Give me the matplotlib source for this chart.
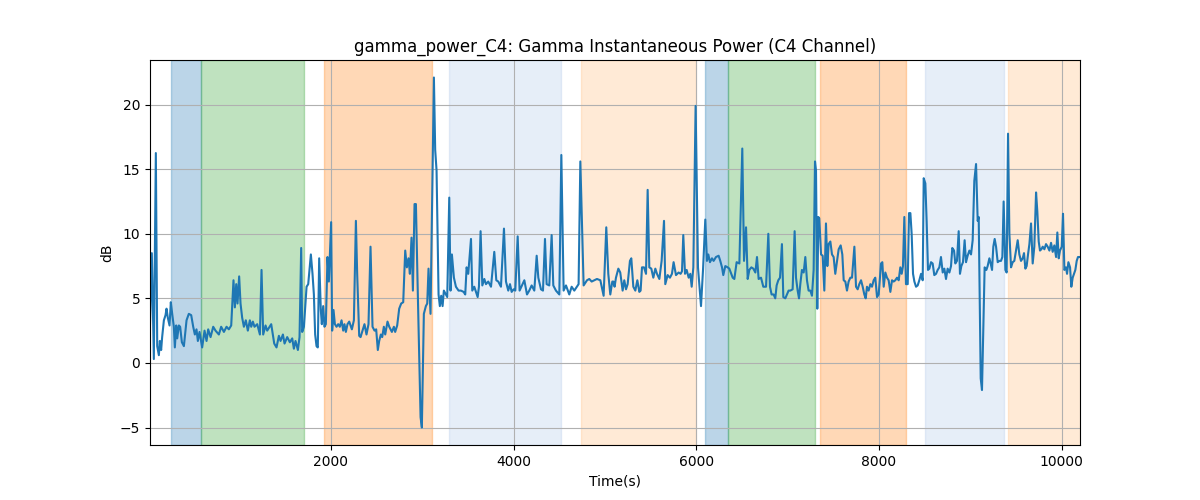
import matplotlib
matplotlib.use("Agg")
import matplotlib.pyplot as plt

# time stamps (s) and gamma power (dB)
t = [20, 40, 62, 84, 99, 117, 128, 142, 153, 172, 190, 201, 215, 234, 248, 263, 281, 292, 307, 318,
     336, 350, 369, 391, 420, 445, 471, 493, 511, 529, 544, 562, 591, 617, 639, 657, 683, 712, 737, 774,
     799, 829, 858, 883, 909, 934, 949, 964, 978, 996, 1011, 1029, 1048, 1069, 1091, 1113, 1128, 1146, 1164, 1194,
     1223, 1241, 1259, 1285, 1303, 1347, 1380, 1405, 1431, 1449, 1475, 1493, 1522, 1551, 1577, 1595, 1613, 1639, 1657, 1675,
     1686, 1705, 1734,
     1752, 1781, 1799, 1814, 1828, 1843, 1857, 1872, 1890, 1901, 1916, 1930, 1945, 1963, 1978, 2003, 2014, 2029, 2044, 2062,
     2080, 2098, 2117, 2135, 2149, 2164, 2182, 2201, 2230, 2252, 2274, 2288, 2310, 2325, 2347, 2368, 2390, 2412, 2434, 2456,
     2478, 2496, 2514, 2529, 2547, 2562, 2580, 2595, 2620, 2639, 2668, 2690, 2704, 2726, 2748, 2770, 2792, 2814, 2832, 2850,
     2865, 2883, 2898, 2916, 2931, 2952, 2982, 2996, 3018, 3040, 3055, 3069, 3091, 3128, 3142, 3157, 3179, 3193, 3208, 3223,
     3237, 3259, 3274, 3296, 3310, 3325, 3347, 3369, 3398,
     3424, 3453, 3471, 3486, 3504, 3534, 3548, 3570, 3607, 3621, 3639, 3658, 3680, 3698, 3723, 3753, 3789, 3811, 3833, 3862,
     3895, 3917, 3942, 3961, 3979, 4001, 4019, 4045, 4066, 4099, 4118, 4147, 4172, 4198, 4227, 4253, 4271, 4300, 4322, 4344,
     4362, 4391, 4417, 4435, 4464, 4501, 4523, 4548, 4574, 4610, 4636, 4665, 4694, 4712, 4731, 4767, 4804, 4829, 4855, 4884,
     4913, 4950, 4986, 5015, 5037, 5059, 5081,
     5092, 5106, 5121, 5147, 5168, 5194, 5212, 5231, 5249, 5274, 5289, 5311, 5333, 5355, 5377, 5391, 5406, 5428, 5450, 5468,
     5486, 5508, 5530, 5552, 5570, 5596, 5621, 5647, 5661, 5687, 5712, 5734, 5752, 5778, 5807, 5829, 5844, 5858, 5877, 5895,
     5917, 5935, 5950, 5968, 5993, 6019, 6052, 6074, 6099, 6117, 6132, 6150, 6172, 6190, 6216, 6245, 6263, 6282, 6296, 6318,
     6344, 6362, 6399, 6417, 6442, 6472, 6504, 6523, 6545, 6563, 6581, 6603, 6625, 6647, 6665, 6683, 6709, 6734, 6764, 6789,
     6807, 6825, 6847, 6865, 6880, 6898, 6917, 6938, 6953, 6975, 6993, 7011, 7030, 7055, 7077, 7092, 7110, 7125, 7139, 7157,
     7176, 7194, 7212, 7230, 7249, 7267, 7285, 7300, 7311, 7325, 7336, 7347, 7366, 7384, 7402, 7420, 7435, 7449, 7468, 7486,
     7504, 7522, 7541, 7559, 7581, 7599, 7614, 7632, 7650, 7668, 7687, 7705, 7731, 7749, 7767, 7785, 7804, 7822, 7840, 7855,
     7869, 7887, 7906, 7924, 7942, 7960, 7979, 7997, 8023, 8037, 8052, 8070, 8088, 8106, 8125, 8143, 8161, 8179, 8198, 8216,
     8234, 8249, 8263, 8278, 8296, 8315, 8329, 8344, 8358, 8373, 8388, 8406, 8424, 8442, 8461, 8479, 8490,
     8508, 8522, 8537, 8552, 8570, 8588, 8606, 8625, 8643, 8661, 8679, 8698, 8716, 8734, 8752, 8771, 8789, 8803, 8822, 8836,
     8854, 8873, 8887, 8902, 8920, 8938, 8953, 8971, 8990, 9008, 9026, 9044, 9063, 9081, 9092, 9103, 9114, 9128, 9143, 9157,
     9176, 9190, 9209, 9223, 9238, 9252, 9267, 9282, 9300, 9318, 9336, 9351, 9365, 9384, 9398, 9413, 9428, 9446, 9464, 9482,
     9501, 9519, 9537, 9555, 9574, 9588, 9603, 9617, 9632, 9647, 9665, 9683, 9701, 9720, 9734, 9749, 9763, 9778, 9793, 9811,
     9829, 9847, 9866, 9884, 9902, 9920, 9939, 9953, 9968, 9982, 10001, 10015, 10030, 10048, 10059, 10074, 10092, 10106, 10121, 10136,
     10150, 10165, 10179, 10201]

db = [3.0, 8.5, 0.3, 16.25, 1.3, 0.6, 1.7, 1.0, 2.0, 3.3, 3.7, 4.2, 3.5, 2.9, 4.7, 3.8, 2.8, 1.2, 2.9, 1.9,
      2.9, 2.8, 1.6, 1.3, 3.3, 3.8, 3.7, 2.8, 2.2, 2.6, 1.7, 2.4, 1.2, 2.5, 1.7, 2.6, 2.0, 2.8, 2.5, 2.2,
      2.8, 2.4, 2.8, 2.6, 2.9, 6.4, 4.3, 6.1, 4.6, 6.7, 4.6, 3.5, 2.8, 3.3, 2.5, 3.3, 2.8, 3.2, 2.8, 3.0,
      2.2, 7.2, 2.2, 2.9, 2.5, 3.0, 1.5, 1.2, 2.1, 1.7, 2.2, 1.5, 2.0, 1.6, 1.9, 1.1, 1.7, 1.0, 2.0, 8.9,
      2.4, 2.8, 5.9,
      6.1, 8.4, 6.9, 5.3, 2.2, 1.3, 1.2, 8.1, 4.1, 3.0, 4.4, 2.8, 3.0, 8.2, 6.3, 10.9, 2.5, 4.1, 3.0, 2.8,
      3.0, 2.8, 3.3, 2.5, 3.0, 2.4, 3.0, 3.2, 2.6, 3.3, 11.0, 6.9, 2.1, 2.0, 2.5, 3.0, 2.2, 3.0, 9.0, 2.8,
      2.5, 2.6, 1.0, 1.7, 2.2, 2.0, 2.8, 2.2, 3.2, 2.8, 2.4, 2.8, 2.4, 2.9, 4.2, 4.6, 4.7, 8.7, 7.4, 8.1,
      6.9, 9.7, 5.6, 12.3, 12.3, 5.3, -4.2, -5.0, 3.8, 4.4, 4.6, 7.3, 3.8, 22.1, 16.5, 14.9, 5.3, 4.4, 5.2, 4.4,
      5.6, 5.3, 5.1, 12.8, 5.6, 8.4, 6.6, 5.9, 5.6,
      5.6, 5.5, 5.3, 7.4, 6.9, 9.6, 5.6, 5.9, 5.1, 5.9, 10.2, 6.0, 6.5, 6.1, 6.3, 5.9, 8.6, 6.4, 6.3, 5.9,
      10.4, 6.3, 5.6, 6.1, 5.5, 5.7, 5.6, 9.8, 5.6, 6.1, 6.4, 5.3, 5.6, 6.0, 5.6, 8.3, 6.6, 5.7, 5.6, 9.6,
      6.1, 6.0, 9.9, 6.0, 5.6, 5.3, 16.1, 5.6, 6.0, 5.3, 5.9, 5.6, 5.9, 6.1, 15.6, 6.0, 6.4, 6.5, 6.3, 6.4,
      6.5, 6.4, 5.2, 10.5, 6.9, 5.3, 6.3,
      6.3, 5.9, 6.6, 7.3, 7.0, 5.6, 6.4, 5.7, 6.1, 7.9, 8.1, 5.9, 5.6, 6.4, 5.5, 5.6, 7.4, 7.4, 6.9, 13.4,
      7.4, 7.3, 6.6, 7.3, 6.9, 6.5, 7.9, 11.0, 6.1, 6.8, 6.6, 6.9, 7.8, 6.8, 7.0, 6.9, 7.1, 9.9, 6.9, 7.2,
      6.6, 6.9, 5.9, 7.4, 19.9, 7.4, 4.4, 7.2, 11.1, 7.9, 8.4, 7.8, 8.1, 7.9, 8.2, 8.3, 7.9, 7.4, 6.8, 7.5,
      7.4, 7.3, 6.6, 6.5, 7.8, 7.7, 16.6, 7.9, 10.5, 6.5, 7.2, 7.4, 7.3, 7.0, 8.2, 6.5, 6.6, 5.9, 5.9, 10.0,
      5.9, 5.3, 5.3, 5.0, 6.0, 6.4, 6.6, 9.2, 5.1, 5.0, 5.3, 5.6, 5.6, 5.7, 10.2, 6.6, 5.6, 5.0, 6.1, 7.2,
      7.0, 8.2, 6.4, 5.6, 5.6, 5.2, 7.2, 15.6, 14.9, 4.2, 11.3, 11.2, 8.4, 8.3, 5.6, 10.8, 7.5, 9.2, 9.4, 8.4,
      8.2, 6.9, 7.9, 8.8, 9.1, 8.4, 6.4, 6.3, 5.6, 6.3, 6.6, 6.6, 9.0, 5.9, 5.7, 6.1, 6.4, 5.9, 5.3, 5.0,
      5.9, 5.6, 6.1, 5.9, 6.4, 6.6, 5.1, 5.3, 7.7, 7.8, 5.9, 7.0, 6.6, 6.4, 5.5, 6.4, 6.3, 6.4, 6.6, 6.4,
      7.4, 6.9, 7.5, 11.3, 6.1, 6.1, 11.6, 11.6, 10.0, 6.9, 6.3, 5.9, 6.0, 6.4, 6.9, 6.4, 14.3,
      13.9, 11.0, 7.2, 7.3, 7.8, 7.7, 6.8, 6.9, 7.2, 7.4, 8.2, 7.0, 7.3, 6.5, 7.3, 7.0, 7.5, 8.9, 8.7, 7.7,
      7.9, 10.2, 6.9, 7.5, 7.8, 9.5, 7.8, 8.3, 8.7, 8.4, 9.5, 14.1, 15.4, 11.0, 11.3, 5.3, -1.2, -2.1, 2.8, 7.4,
      7.2, 7.5, 8.1, 7.7, 7.2, 9.0, 9.6, 9.0, 7.8, 7.9, 7.9, 8.2, 12.5, 7.2, 7.0, 17.75, 10.0, 7.4, 7.8, 7.9,
      8.7, 9.5, 8.4, 7.9, 8.1, 8.5, 7.3, 7.5, 8.4, 9.2, 10.8, 7.7, 9.0, 13.2, 11.7, 9.4, 8.7, 8.8, 9.0, 8.8,
      9.2, 9.0, 8.7, 9.3, 8.6, 9.1, 8.2, 10.1, 8.1, 8.7, 9.0, 11.55, 7.2, 7.4, 6.9, 7.8, 7.4, 5.9, 6.6, 6.9,
      7.2, 7.9, 8.2, 8.2]

# shaded stages: start, end, colour
span_start = [250, 575, 1927, 3296, 4741, 6099, 6343, 7358, 8508, 9417]
span_end = [575, 1705, 3106, 4519, 5995, 6343, 7300, 8297, 9373, 10250]
span_color = ["tab:blue", "tab:green", "tab:orange", "#aec7e8", "#ffbb78",
              "tab:blue", "tab:green", "tab:orange", "#aec7e8", "#ffbb78"]

fig, ax = plt.subplots(figsize=(12, 5), dpi=100)

for s, e, c in zip(span_start, span_end, span_color):
    ax.axvspan(s, e, color=c, alpha=0.3)

ax.plot(t, db, color="tab:blue", linewidth=1.5)

ax.set_xlim(min(t), max(t))
ax.set_title("gamma_power_C4: Gamma Instantaneous Power (C4 Channel)")
ax.set_xlabel("Time(s)")
ax.set_ylabel("dB")
ax.grid(True)

fig.savefig("out.png", dpi=100)
